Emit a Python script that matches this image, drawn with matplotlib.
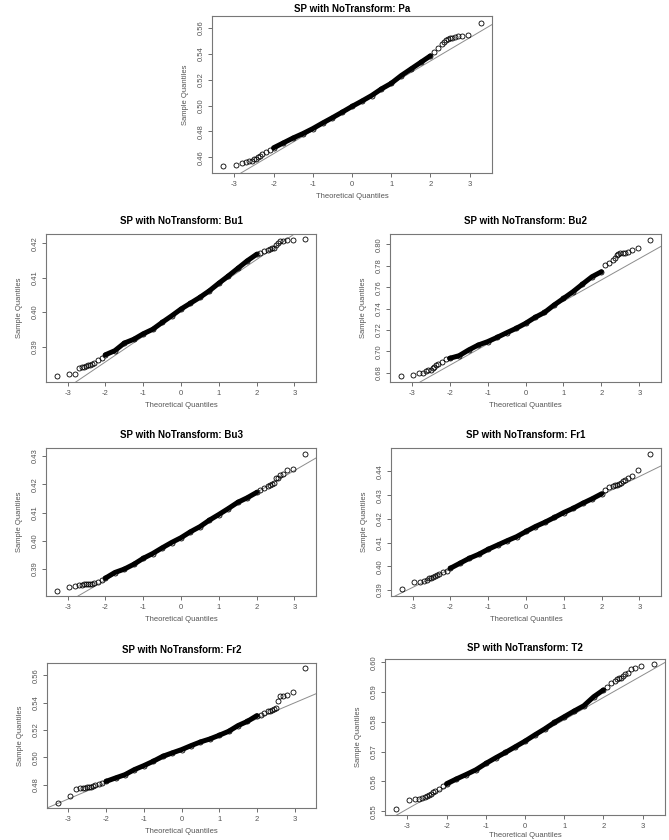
import matplotlib
matplotlib.use("Agg")
import numpy as np
import matplotlib.pyplot as plt

plt.rcParams['font.family'] = ['Liberation Sans', 'DejaVu Sans']
plt.rcParams['axes.unicode_minus'] = False

THEO = [-3.29, -2.97, -2.81, -2.70, -2.62, -2.56, -2.50, -2.45, -2.40, -2.35, -2.30,
        -2.2, -2.1, -2.0, -1.75, -1.5, -1.25, -1.0, -0.75, -0.5, -0.25, 0.0,
        0.25, 0.5, 0.75, 1.0, 1.25, 1.5, 1.75, 2.0, 2.1, 2.2,
        2.30, 2.35, 2.40, 2.45, 2.50, 2.56, 2.62, 2.70, 2.81, 2.97, 3.29]

# sample quantiles per panel
PA = [0.4534, 0.4544, 0.4559, 0.4562, 0.4569, 0.4574, 0.4585, 0.4590, 0.4600, 0.4610, 0.4623,
      0.4638, 0.4656, 0.4674, 0.4712, 0.4750, 0.4784, 0.4822, 0.4865, 0.4906, 0.4949, 0.4993,
      0.5034, 0.5077, 0.5128, 0.5171, 0.5230, 0.5281, 0.5332, 0.5383, 0.5414, 0.5447,
      0.5478, 0.5493, 0.5503, 0.5511, 0.5518, 0.5523, 0.5531, 0.5536, 0.5539, 0.5544, 0.5636]
BU1 = [0.3815, 0.3821, 0.3821, 0.3838, 0.3841, 0.3842, 0.3843, 0.3845, 0.3847, 0.3850, 0.3853,
       0.3861, 0.3868, 0.3876, 0.3888, 0.3910, 0.3921, 0.3937, 0.3950, 0.3970, 0.3989, 0.4009,
       0.4026, 0.4043, 0.4062, 0.4084, 0.4105, 0.4127, 0.4149, 0.4168, 0.4173, 0.4177,
       0.4181, 0.4183, 0.4185, 0.4187, 0.4195, 0.4200, 0.4208, 0.4208, 0.4209, 0.4210, 0.4212]
BU2 = [0.6769, 0.6778, 0.6794, 0.6797, 0.6819, 0.6822, 0.6825, 0.6841, 0.6850, 0.6872, 0.6878,
       0.6903, 0.6925, 0.6934, 0.6959, 0.7012, 0.7058, 0.7090, 0.7130, 0.7173, 0.7214, 0.7261,
       0.7317, 0.7363, 0.7432, 0.7494, 0.7557, 0.7628, 0.7697, 0.7744, 0.7806, 0.7828,
       0.7853, 0.7874, 0.7898, 0.7914, 0.7918, 0.7921, 0.7921, 0.7927, 0.7952, 0.7967, 0.8045]
BU3 = [0.3824, 0.3836, 0.3842, 0.3843, 0.3845, 0.3846, 0.3847, 0.3847, 0.3848, 0.3849, 0.3852,
       0.3856, 0.3862, 0.3868, 0.3888, 0.3900, 0.3917, 0.3938, 0.3955, 0.3975, 0.3994, 0.4011,
       0.4032, 0.4050, 0.4073, 0.4093, 0.4114, 0.4136, 0.4152, 0.4171, 0.4178, 0.4187,
       0.4193, 0.4197, 0.4200, 0.4206, 0.4221, 0.4221, 0.4232, 0.4237, 0.4252, 0.4255, 0.4308]
FR1 = [0.3903, 0.3935, 0.3935, 0.3939, 0.3944, 0.3951, 0.3953, 0.3956, 0.3959, 0.3963, 0.3968,
       0.3975, 0.3982, 0.3992, 0.4013, 0.4034, 0.4051, 0.4072, 0.4090, 0.4108, 0.4125, 0.4147,
       0.4168, 0.4186, 0.4206, 0.4227, 0.4245, 0.4266, 0.4285, 0.4306, 0.4323, 0.4335,
       0.4340, 0.4342, 0.4344, 0.4347, 0.4350, 0.4358, 0.4365, 0.4372, 0.4383, 0.4407, 0.4473]
FR2 = [0.4666, 0.4719, 0.4771, 0.4773, 0.4776, 0.4776, 0.4780, 0.4783, 0.4785, 0.4790, 0.4795,
       0.4805, 0.4812, 0.4824, 0.4849, 0.4873, 0.4910, 0.4939, 0.4971, 0.5007, 0.5032, 0.5056,
       0.5085, 0.5112, 0.5134, 0.5161, 0.5190, 0.5232, 0.5263, 0.5305, 0.5312, 0.5324,
       0.5337, 0.5341, 0.5346, 0.5354, 0.5361, 0.5410, 0.5446, 0.5446, 0.5459, 0.5476, 0.5654]
T2 = [0.5508, 0.5537, 0.5541, 0.5541, 0.5545, 0.5547, 0.5550, 0.5554, 0.5557, 0.5563, 0.5567,
      0.5574, 0.5585, 0.5592, 0.5608, 0.5623, 0.5639, 0.5660, 0.5679, 0.5697, 0.5716, 0.5735,
      0.5756, 0.5776, 0.5798, 0.5817, 0.5836, 0.5854, 0.5884, 0.5907, 0.5918, 0.5929,
      0.5938, 0.5944, 0.5948, 0.5948, 0.5955, 0.5961, 0.5963, 0.5978, 0.5982, 0.5989, 0.5993]

NAMES = ["Pa", "Bu1", "Bu2", "Bu3", "Fr1", "Fr2", "T2"]
SAMPLES = [PA, BU1, BU2, BU3, FR1, FR2, T2]
# qqline intercept / slope
LINE_A = [0.4986, 0.4004, 0.7268, 0.4016, 0.4145, 0.5047, 0.5732]
LINE_B = [0.01787, 0.00744, 0.01998, 0.00775, 0.0078, 0.01171, 0.00749]
YTICKS = [[0.46, 0.48, 0.50, 0.52, 0.54, 0.56],
          [0.39, 0.40, 0.41, 0.42],
          [0.68, 0.70, 0.72, 0.74, 0.76, 0.78, 0.80],
          [0.39, 0.40, 0.41, 0.42, 0.43],
          [0.39, 0.40, 0.41, 0.42, 0.43, 0.44],
          [0.48, 0.50, 0.52, 0.54, 0.56],
          [0.55, 0.56, 0.57, 0.58, 0.59, 0.60]]
YLIMS = [(0.448, 0.569), (0.3797, 0.4227), (0.6713, 0.8097), (0.3805, 0.4328),
         (0.3875, 0.4499), (0.4629, 0.569), (0.5487, 0.6011)]
XTICKS = [-3, -2, -1, 0, 1, 2, 3]

W, H = 669, 840
# axes boxes in pixels: left, right, top, bottom
BOXES = [(212, 492, 16, 173), (46, 316, 234, 382), (390, 661, 234, 382),
         (46, 316, 448, 596), (391, 661, 448, 596), (47, 316, 663, 808),
         (385, 665, 659, 815)]
TITLE_PAD = [3, 7, 7, 7, 7, 7, 6]
XLAB_PAD = [4, 4, 4, 4, 4, 4, 1.5]

fig = plt.figure(figsize=(W / 100, H / 100), dpi=100)
grey = "#555555"

theo = np.array(THEO)
for i, name in enumerate(NAMES):
    l, r, t, b = BOXES[i]
    ax = fig.add_axes([l / W, 1 - b / H, (r - l) / W, (b - t) / H])
    y = np.array(SAMPLES[i])
    mid = np.abs(theo) <= 2.0
    ax.axline((0, LINE_A[i]), slope=LINE_B[i], color="#8c8c8c", lw=0.7, zorder=1)
    ax.plot(theo[mid], y[mid], color="black", lw=3.6, solid_capstyle="round", zorder=2)
    ax.plot(theo, y, "o", mfc="none", mec="black", ms=3.6, mew=0.6, zorder=3)
    ax.set_xlim(-3.57, 3.57)
    ax.set_ylim(*YLIMS[i])
    ax.set_xticks(XTICKS)
    ax.set_yticks(YTICKS[i])
    ax.set_yticklabels(["%.2f" % v for v in YTICKS[i]], rotation=90, va="center")
    ax.tick_params(labelsize=5.5, colors=grey, length=3, width=0.6, pad=2.5)
    for s in ax.spines.values():
        s.set_color("#777777")
        s.set_linewidth(0.8)
    ax.set_title("SP with NoTransform: " + name, fontsize=7, fontweight="bold",
                 pad=TITLE_PAD[i])
    ax.set_xlabel("Theoretical Quantiles", fontsize=5.5, color=grey, labelpad=XLAB_PAD[i])
    ax.set_ylabel("Sample Quantiles", fontsize=5.5, color=grey, labelpad=6)

fig.savefig("out.png", dpi=100)
